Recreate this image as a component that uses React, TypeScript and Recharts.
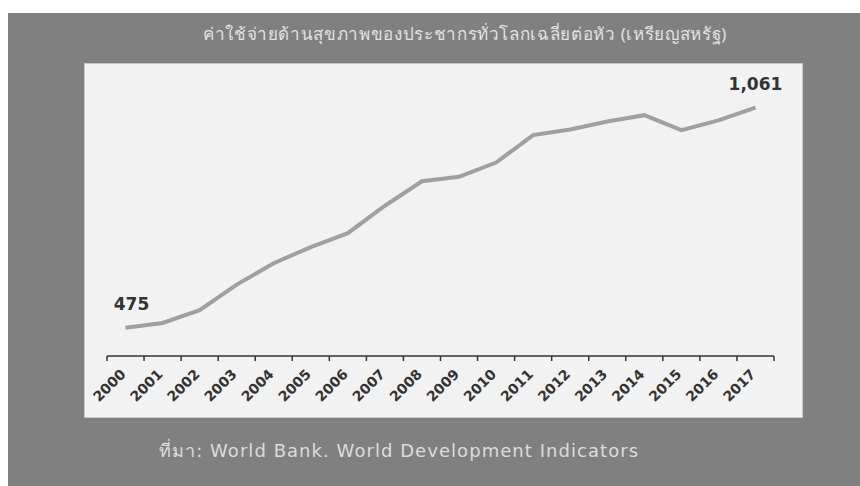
import { Line, LineChart, XAxis, YAxis } from "recharts";

const YEARS = ["2000", "2001", "2002", "2003", "2004", "2005", "2006", "2007", "2008", "2009", "2010", "2011", "2012", "2013", "2014", "2015", "2016", "2017"];
const SPENDING = [475, 488, 522, 590, 647, 690, 727, 800, 865, 877, 915, 988, 1003, 1024, 1041, 1001, 1027, 1061];
const TITLE = "ค่าใช้จ่ายด้านสุขภาพของประชากรทั่วโลกเฉลี่ยต่อหัว (เหรียญสหรัฐ)";
const SOURCE = "ที่มา: World Bank. World Development Indicators";

const data = YEARS.map((y, i) => ({ idx: i, year: y, v: SPENDING[i] }));
// tick marks sit between categories (Excel style), labels sit on the category
const BOUNDS = [...YEARS.map((_, i) => i - 0.5), YEARS.length - 0.5];
const CENTERS = YEARS.map((_, i) => i);
const INK = "#333";
const FONT = "'DejaVu Sans', sans-serif";

function YearTick({ x, y, payload }: any) {
  return (
    <g transform={`translate(${x + 1},${y + 14})`}>
      <text transform="rotate(-45)" textAnchor="end" fontSize={14} fontWeight={700} fill={INK} fontFamily={FONT}>
        {YEARS[payload.value]}
      </text>
    </g>
  );
}

const NoTick = () => <g />;

function EndLabel({ x, y, index, value }: any) {
  if (index !== 0 && index !== SPENDING.length - 1) return <g />;
  return (
    <text x={x + (index === 0 ? 6 : 0)} y={y - 18} textAnchor="middle" fontSize={17} fontWeight={700} fill={INK} fontFamily={FONT}>
      {value.toLocaleString("en-US")}
    </text>
  );
}

export default function App() {
  return (
    <div style={{ position: "absolute", left: 8, top: 13, width: 852, height: 473, background: "#808080", fontFamily: FONT }}>
      <div style={{ position: "absolute", left: 457, top: 7, transform: "translateX(-50%)", whiteSpace: "nowrap", color: "#e2e2e2", fontSize: 17, letterSpacing: 0.65, fontFamily: "'Noto Sans', sans-serif" }}>
        {TITLE}
      </div>
      <div style={{ position: "absolute", left: 76, top: 50, width: 719, height: 355, background: "#f2f2f2", boxSizing: "border-box", border: "1px solid #c8c8c8" }}>
        <LineChart width={717} height={353} data={data} margin={{ top: 29, right: 28, bottom: 0, left: 22 }}>
          <YAxis hide domain={[400, 1100]} />
          <XAxis xAxisId="marks" type="number" dataKey="idx" domain={[-0.5, YEARS.length - 0.5]} ticks={BOUNDS} interval={0} tick={<NoTick />} tickSize={5} height={5} axisLine={{ stroke: INK, strokeWidth: 1.5 }} tickLine={{ stroke: INK, strokeWidth: 1.5 }} />
          <XAxis xAxisId="years" type="number" dataKey="idx" domain={[-0.5, YEARS.length - 0.5]} ticks={CENTERS} interval={0} tick={<YearTick />} tickSize={0} tickMargin={0} height={56} axisLine={false} tickLine={false} />
          <Line xAxisId="years" type="linear" dataKey="v" stroke="#a0a0a0" strokeWidth={4} dot={false} label={<EndLabel />} isAnimationActive={false} />
        </LineChart>
      </div>
      <div style={{ position: "absolute", left: 151, top: 423, whiteSpace: "nowrap", color: "#dcdcdc", fontSize: 18, letterSpacing: 1.05, fontFamily: "'DejaVu Sans', sans-serif" }}>
        {SOURCE}
      </div>
    </div>
  );
}
